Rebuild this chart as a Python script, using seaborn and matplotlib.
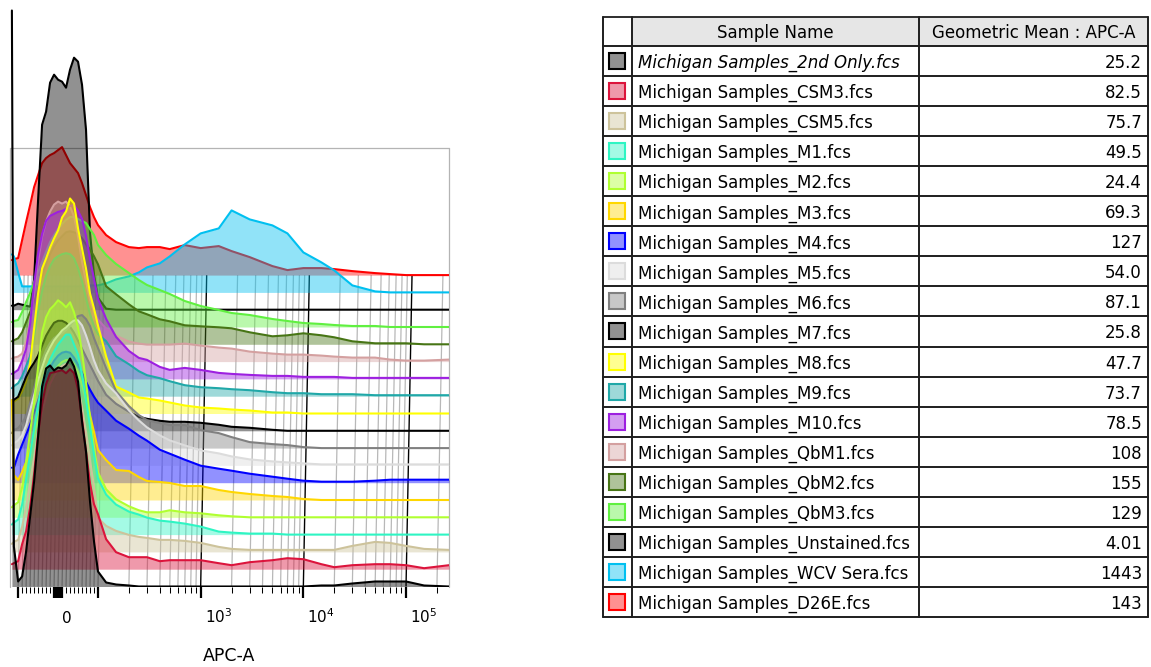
import numpy as np
import matplotlib
matplotlib.use("Agg")
import matplotlib.pyplot as plt
import matplotlib.colors as mcolors
from matplotlib.patches import Rectangle
from matplotlib.transforms import ScaledTranslation
import seaborn as sns

# ---------------------------------------------------------------- data
sample_names = [
    "Michigan Samples_2nd Only.fcs", "Michigan Samples_CSM3.fcs", "Michigan Samples_CSM5.fcs",
    "Michigan Samples_M1.fcs", "Michigan Samples_M2.fcs", "Michigan Samples_M3.fcs",
    "Michigan Samples_M4.fcs", "Michigan Samples_M5.fcs", "Michigan Samples_M6.fcs",
    "Michigan Samples_M7.fcs", "Michigan Samples_M8.fcs", "Michigan Samples_M9.fcs",
    "Michigan Samples_M10.fcs", "Michigan Samples_QbM1.fcs", "Michigan Samples_QbM2.fcs",
    "Michigan Samples_QbM3.fcs", "Michigan Samples_Unstained.fcs", "Michigan Samples_WCV Sera.fcs",
    "Michigan Samples_D26E.fcs",
]
geometric_means = [25.2, 82.5, 75.7, 49.5, 24.4, 69.3, 127, 54.0, 87.1, 25.8,
                   47.7, 73.7, 78.5, 108, 155, 129, 4.01, 1443, 143]
line_colors = ["#000000", "#dc143c", "#cdc39b", "#2ef5c3", "#b0ff30", "#ffd700",
               "#0000ff", "#dcdcdc", "#808080", "#000000", "#ffff00", "#20a8a8",
               "#9d20e0", "#d4a0a0", "#477515", "#60f040", "#000000", "#00c0f0",
               "#ff0000"]

# APC-A bin positions (shared by every histogram)
apc_bins = [-115, -110, -100, -90, -80, -70, -60, -50, -40, -30, -20, -10, 0, 10, 20, 30,
            40, 50, 60, 70, 80, 90, 100, 120, 150, 200, 250, 300, 400, 500, 700, 1000,
            1500, 2000, 3000, 5000, 7000, 10000, 15000, 20000, 30000, 50000, 70000,
            100000, 150000, 262144]

# counts per bin (one frame height = 127.5)
counts_2nd_only = [576, 40, 5, 10, 35, 70, 105, 150, 200, 218, 221, 216, 219, 218, 221, 228, 220, 205, 165, 135, 85, 45, 15, 4, 2, 1, 0, 0, 0, 0, 0, 0, 0, 0, 0, 0, 0, 0, 1, 1, 3, 5, 5, 5, 1, 0]
counts_csm3 = [5, 6, 8, 25, 38, 62, 95, 135, 165, 185, 196, 197, 198, 199, 196, 200, 196, 180, 150, 118, 86, 65, 55, 30, 17, 12, 12, 12, 8, 9, 9, 9, 6, 4, 7, 9, 11, 10, 5, 2, 4, 5, 5, 4, 1, 4]
counts_csm5 = [8, 10, 12, 25, 45, 70, 95, 120, 140, 155, 168, 176, 182, 186, 188, 186, 178, 165, 145, 120, 92, 65, 34, 26, 21, 17, 15, 14, 12, 12, 11, 9, 5, 3, 2, 2, 2, 2, 2, 2, 6, 10, 9, 6, 3, 2]
counts_m1 = [10, 12, 15, 30, 55, 80, 105, 130, 150, 165, 175, 183, 190, 195, 200, 200, 190, 180, 160, 135, 108, 80, 56, 40, 30, 23, 20, 17, 14, 13, 11, 8, 3, 2, 1, 1, 0, 0, 0, 0, 0, 0, 0, 0, 0, 0]
counts_m2 = [10, 12, 15, 30, 55, 85, 115, 150, 185, 200, 208, 212, 217, 214, 210, 215, 205, 190, 165, 135, 100, 70, 45, 28, 18, 11, 7, 5, 5, 7, 5, 4, 2, 1, 0, 0, 0, 0, 0, 0, 0, 0, 0, 0, 0, 0]
counts_m3 = [100, 25, 20, 28, 38, 50, 65, 82, 98, 110, 120, 128, 134, 138, 140, 140, 136, 128, 115, 100, 85, 68, 50, 40, 30, 29, 23, 19, 18, 17, 14, 14, 10, 8, 6, 4, 3, 1, 0, 0, 0, 0, 0, 0, 0, 0]
counts_m4 = [15, 15, 28, 38, 48, 58, 70, 82, 95, 106, 115, 122, 127, 130, 131, 130, 125, 118, 110, 101, 93, 86, 80, 72, 62, 54, 47, 42, 33, 29, 23, 17, 14, 12, 9, 6, 4, 2, 1, 1, 1, 2, 3, 3, 3, 3]
counts_m5 = [20, 22, 25, 30, 40, 55, 70, 85, 98, 110, 118, 125, 130, 135, 138, 142, 145, 145, 140, 130, 118, 105, 95, 82, 72, 55, 45, 38, 30, 25, 20, 15, 12, 9, 6, 4, 3, 2, 1, 1, 1, 1, 1, 1, 1, 1]
counts_m6 = [15, 18, 20, 25, 32, 45, 60, 75, 88, 98, 105, 110, 113, 115, 118, 122, 128, 132, 133, 129, 122, 110, 100, 80, 57, 42, 33, 28, 25, 23, 23, 18, 15, 11, 6, 4, 3, 1, 0, 0, 0, 0, 0, 0, 0, 0]
counts_m7 = [30, 31, 34, 44, 54, 62, 68, 75, 85, 95, 102, 108, 110, 110, 108, 104, 98, 90, 82, 74, 66, 58, 50, 36, 27, 19, 14, 12, 10, 9, 9, 8, 6, 4, 3, 1, 0, 0, 0, 0, 0, 0, 0, 0, 0, 0]
counts_m8 = [10, 12, 15, 22, 32, 50, 85, 120, 145, 155, 166, 175, 183, 196, 202, 215, 210, 185, 165, 145, 120, 105, 88, 57, 27, 21, 16, 15, 13, 11, 8, 6, 5, 4, 3, 1, 1, 0, 0, 0, 0, 0, 0, 0, 0, 0]
counts_m9 = [8, 10, 13, 20, 30, 40, 60, 85, 105, 120, 130, 137, 140, 142, 143, 142, 138, 128, 115, 98, 82, 70, 62, 55, 40, 32, 25, 21, 18, 15, 11, 9, 8, 7, 6, 4, 3, 3, 2, 2, 2, 1, 1, 1, 1, 1]
counts_m10 = [5, 6, 9, 18, 30, 55, 95, 125, 145, 158, 163, 165, 167, 168, 170, 173, 174, 168, 160, 143, 120, 100, 80, 60, 42, 28, 21, 19, 12, 9, 11, 9, 6, 5, 4, 3, 3, 2, 2, 2, 1, 1, 1, 1, 1, 1]
counts_qbm1 = [3, 4, 5, 8, 20, 40, 70, 100, 125, 140, 150, 157, 160, 158, 160, 155, 145, 125, 100, 80, 62, 50, 42, 33, 26, 20, 18, 17, 17, 17, 18, 16, 14, 13, 10, 8, 7, 7, 6, 5, 4, 4, 2, 1, 1, 2]
counts_qbm2 = [3, 4, 6, 12, 22, 32, 43, 55, 68, 80, 90, 98, 104, 108, 112, 113, 112, 110, 106, 100, 95, 88, 80, 58, 50, 40, 33, 30, 25, 23, 19, 18, 17, 16, 12, 8, 9, 11, 9, 7, 3, 1, 1, 1, 0, 0]
counts_qbm3 = [5, 6, 7, 15, 25, 34, 45, 55, 65, 75, 85, 92, 98, 103, 107, 110, 110, 108, 106, 104, 98, 92, 82, 72, 63, 54, 47, 42, 37, 33, 26, 21, 17, 14, 12, 8, 6, 4, 3, 2, 1, 1, 0, 0, 0, 0]
counts_unstained = [4, 4, 6, 5, 4, 3, 30, 110, 185, 198, 227, 235, 230, 228, 222, 240, 252, 248, 225, 180, 77, 35, 12, 1, 0, 0, 0, 0, 0, 0, 0, 0, 0, 0, 0, 0, 0, 0, 0, 0, 0, 0, 0, 0, 0, 0]
counts_wcv_sera = [38, 36, 20, 6, 6, 6, 6, 6, 6, 6, 6, 6, 6, 6, 6, 6, 6, 6, 6, 7, 7, 7, 7, 9, 13, 16, 20, 25, 29, 36, 48, 59, 64, 82, 73, 67, 59, 40, 30, 22, 7, 1, 0, 0, 0, 0]
counts_d26e = [15, 16, 17, 35, 53, 70, 88, 100, 112, 117, 120, 122, 125, 128, 120, 112, 107, 102, 92, 80, 68, 58, 50, 40, 33, 28, 27, 28, 28, 26, 30, 27, 29, 24, 18, 9, 5, 7, 7, 6, 4, 2, 1, 0, 0, 0]

layer_counts = [counts_2nd_only, counts_csm3, counts_csm5, counts_m1, counts_m2, counts_m3,
                counts_m4, counts_m5, counts_m6, counts_m7, counts_m8, counts_m9, counts_m10,
                counts_qbm1, counts_qbm2, counts_qbm3, counts_unstained, counts_wcv_sera,
                counts_d26e]

major_ticks = [-100, -10, -5, 0, 5, 10, 100, 1000, 10000, 100000]
tick_text = {0: "0", 1000: r"$10^{3}$", 10000: r"$10^{4}$", 100000: r"$10^{5}$"}
header_labels = ["Sample Name", "Geometric Mean : APC-A"]

# ---------------------------------------------------------------- style
sns.set_style("white")
plt.rcParams["font.family"] = ["DejaVu Sans"]
plt.rcParams["mathtext.fontset"] = "dejavusans"
plt.rcParams["text.color"] = "black"
plt.rcParams["axes.labelcolor"] = "black"

W, H = 1151, 667
fig = plt.figure(figsize=(W / 100, H / 100), dpi=100)
PX_L, PX_R, PX_B = 10, 449, 586.5
ax = fig.add_axes([PX_L / W, (H - PX_B) / H, (PX_R - PX_L) / W, PX_B / H])
ax.set_xscale("symlog", linthresh=100, linscale=0.35)
XMIN, XMAX = -120, 262144
YMAX = PX_B
ax.set_xlim(XMIN, XMAX)
ax.set_ylim(0, YMAX)

STEP = 17.3
FRAME_H = 127.5
FILL_ALPHA = 0.43
n = len(sample_names)
x = np.array(apc_bins, dtype=float)

for i in range(n - 1, -1, -1):
    base = i * STEP
    y = base + np.array(layer_counts[i], dtype=float)
    z = 2 + (n - i) * 0.1
    ax.fill_between(x, base, y, color=line_colors[i], alpha=FILL_ALPHA, lw=0, zorder=z)
    sns.lineplot(x=x, y=y, ax=ax, color=line_colors[i], lw=1.5, zorder=z + 0.05,
                 estimator=None, sort=False, legend=False)

ax.set_xlim(XMIN, XMAX)
ax.set_ylim(0, YMAX)

# slanted grid lines through the stacked layers
top_base = (n - 1) * STEP
SLANT = 6
inv = ax.transData.inverted()
minor_ticks = ([v for v in range(-90, 100, 10) if v not in (-10, 0, 10)] +
               [k * 10 ** d for d in (2, 3, 4) for k in range(2, 10)] + [200000])
grid_vals = sorted(set(list(range(-100, 101, 10)) + [k * 10 ** d for d in (2, 3, 4) for k in range(1, 10)]
                       + [100000, 200000]))
for v in grid_vals:
    tx, ty = ax.transData.transform((v, top_base))
    vtop = inv.transform((tx + SLANT, ty))[0]
    major = v in (1000, 10000, 100000)
    ax.plot([v, vtop], [0, top_base], color="#000000" if major else "#b8b8b8",
            lw=1.0 if major else 0.9, zorder=1, solid_capstyle="butt")
# left / right edges and the top layer frame
ax.plot([XMIN, XMIN], [0, top_base + FRAME_H], color="#b4b4b4", lw=0.9, zorder=1, clip_on=False)
ax.plot([XMAX, XMAX], [0, top_base + FRAME_H], color="#b4b4b4", lw=0.9, zorder=1, clip_on=False)
ax.plot([XMIN, XMAX], [top_base + FRAME_H, top_base + FRAME_H], color="#b4b4b4", lw=0.9,
        zorder=1, clip_on=False)

for s in ax.spines.values():
    s.set_visible(False)
ax.set_yticks([])
ax.set_xticks(major_ticks)
ax.set_xticklabels([tick_text.get(t, "") for t in major_ticks])
ax.set_xticks(minor_ticks, minor=True)
ax.tick_params(axis="x", which="major", direction="out", length=8, width=1.6,
               pad=18, labelsize=11, colors="black", bottom=True)
ax.tick_params(axis="x", which="minor", direction="out", length=4.3, width=0.75,
               colors="black", bottom=True)
for lab in ax.get_xticklabels():
    lab.set_ha("left")
    lab.set_va("baseline")
    lab.set_transform(lab.get_transform() + ScaledTranslation(4 / 100, 0, fig.dpi_scale_trans))

ax.set_xlabel("APC-A", fontsize=12.5, color="black")
ax.xaxis.set_label_coords(0.5, (PX_B - 661) / PX_B)
ax.xaxis.label.set_va("baseline")

# ---------------------------------------------------------------- table
tab = fig.add_axes([0, 0, 1, 1])
tab.set_xlim(0, W)
tab.set_ylim(H, 0)
tab.axis("off")

TL, TR, TT = 603, 1148, 17
HDR = 29
RH = 30.05
C1, C2 = 632, 919
TB = TT + HDR + n * RH
FS = 12
LINE_C = "#1e1e1e"

tab.add_patch(Rectangle((C1, TT), TR - C1, HDR, fc="#e6e6e6", ec="none", zorder=0))
tab.plot([TL, TR], [TT, TT], color=LINE_C, lw=1.3)
for k in range(n + 1):
    yy = TT + HDR + k * RH
    tab.plot([TL, TR], [yy, yy], color=LINE_C, lw=1.4)
for xx in (TL, C1, C2, TR):
    tab.plot([xx, xx], [TT, TB], color=LINE_C, lw=1.4)

tab.text((C1 + C2) / 2, TT + HDR / 2, header_labels[0], ha="center", va="center_baseline",
         fontsize=FS, color="black")
tab.text((C2 + TR) / 2, TT + HDR / 2, header_labels[1], ha="center", va="center_baseline",
         fontsize=FS, color="black")


def fmt(v):
    if v >= 100:
        return f"{v:.0f}"
    if v >= 10:
        return f"{v:.1f}"
    return f"{v:.2f}"


for i in range(n):
    yc = TT + HDR + (i + 0.5) * RH
    tab.add_patch(Rectangle((609.5, yc - 8), 16, 16, fc=mcolors.to_rgba(line_colors[i], FILL_ALPHA),
                            ec=line_colors[i], lw=1.5))
    tab.text(638, yc, sample_names[i], ha="left", va="center_baseline", fontsize=FS,
             style="italic" if i == 0 else "normal", color="black")
    tab.text(1142, yc, fmt(geometric_means[i]), ha="right", va="center_baseline", fontsize=FS,
             color="black")

fig.savefig("out.png", dpi=100)
